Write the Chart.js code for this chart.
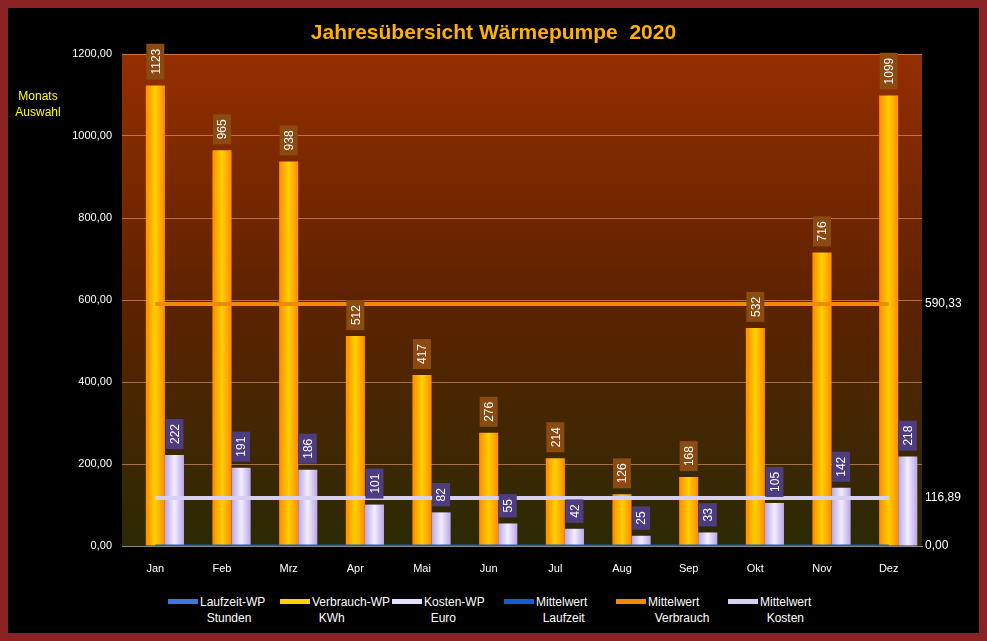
<!DOCTYPE html>
<html lang="de">
<head>
<meta charset="UTF-8">
<title>Jahresübersicht Wärmepumpe 2020</title>
<script src="https://cdn.jsdelivr.net/npm/chart.js"></script>
<style>
  html, body { margin: 0; padding: 0; }
  body { width: 987px; height: 641px; background: #8a2323; position: relative; overflow: hidden; font-family: Arial, sans-serif; }
  #inner { position: absolute; left: 8px; top: 8px; width: 971px; height: 625px; background: #000; }
  #title { position: absolute; left: 0; width: 971px; top: 12px; text-align: center; color: #ffb000; font-weight: bold; font-size: 21px; }
  #auswahl { position: absolute; left: 0; top: 80px; width: 60px; text-align: center; color: #ffff00; font-size: 12px; line-height: 16px; }
  #wrap { position: absolute; left: 0; top: 0; width: 971px; height: 580px; }
  #legend { position: absolute; top: 586px; left: 160px; display: flex; color: #fff; font-size: 12px; }
  .li { width: 112px; display: flex; }
  .sw { width: 30px; height: 5px; margin-top: 5px; margin-right: 2px; }
  .tx { line-height: 16px; }
</style>
</head>
<body>
<div id="inner">
  <div id="wrap"><canvas id="c"></canvas></div>
  <div id="title">Jahresübersicht Wärmepumpe&nbsp; 2020</div>
  <div id="auswahl">Monats<br>Auswahl</div>
  <div id="legend"></div>
</div>
<script>
const months = ['Jan','Feb','Mrz','Apr','Mai','Jun','Jul','Aug','Sep','Okt','Nov','Dez'];
const laufzeit = [0,0,0,0,0,0,0,0,0,0,0,0];
const verbrauch = [1123,965,938,512,417,276,214,126,168,532,716,1099];
const kosten = [222,191,186,101,82,55,42,25,33,105,142,218];
const mittelLaufzeit = 0.00;
const mittelVerbrauch = 590.33;
const mittelKosten = 116.89;
const yTicks = [0,200,400,600,800,1000,1200];

const legendItems = [
  ['Laufzeit-WP','Stunden','#3a7ae0'],
  ['Verbrauch-WP','KWh','#ffd000'],
  ['Kosten-WP','Euro','#e8e0ff'],
  ['Mittelwert','Laufzeit','#1060d0'],
  ['Mittelwert','Verbrauch','#f08a00'],
  ['Mittelwert','Kosten','#d8d0f0']
];
document.getElementById('legend').innerHTML = legendItems.map(l =>
  `<div class="li"><div class="sw" style="background:${l[2]}"></div><div class="tx">${l[0]}<br>&nbsp;&nbsp;${l[1]}</div></div>`).join('');

const de = v => v.toFixed(2).replace('.', ',');
const CAT_PCT = 0.86;

function barGrad(ctx, c1, c2) {
  const xs = ctx.chart.scales && ctx.chart.scales.x;
  if (!xs || ctx.dataIndex === undefined) return c1;
  const cat = (xs.right - xs.left) / months.length;
  const bw = cat * CAT_PCT / 3;
  const cx = xs.getPixelForValue(ctx.dataIndex) + (ctx.datasetIndex - 1) * bw;
  if (!Number.isFinite(cx) || !Number.isFinite(bw)) return c1;
  const g = ctx.chart.ctx.createLinearGradient(cx - bw / 2, 0, cx + bw / 2, 0);
  g.addColorStop(0, c2); g.addColorStop(0.5, c1); g.addColorStop(1, c2);
  return g;
}

const bgPlugin = {
  id: 'bg',
  beforeDraw(chart) {
    const { ctx, chartArea: a } = chart;
    const g = ctx.createLinearGradient(0, a.top, 0, a.bottom);
    g.addColorStop(0, '#952e00');
    g.addColorStop(0.5, '#5e2200');
    g.addColorStop(1, '#2a2a04');
    ctx.save();
    ctx.fillStyle = g;
    ctx.fillRect(a.left, a.top, a.right - a.left, a.bottom - a.top);
    ctx.restore();
  }
};

const labelPlugin = {
  id: 'labels',
  afterDatasetsDraw(chart) {
    const ctx = chart.ctx;
    ctx.font = '12px Arial';
    [[1, '#8a4a10'], [2, '#4d3c80']].forEach(([di, col]) => {
      const meta = chart.getDatasetMeta(di);
      meta.data.forEach((el, i) => {
        const txt = String(chart.data.datasets[di].data[i]);
        const h = ctx.measureText(txt).width + 10, w = 18;
        const x = el.x, y = el.y - 6 - h / 2;
        ctx.save();
        ctx.fillStyle = col;
        ctx.fillRect(x - w / 2, y - h / 2, w, h);
        ctx.translate(x, y);
        ctx.rotate(-Math.PI / 2);
        ctx.fillStyle = '#fff';
        ctx.textAlign = 'center';
        ctx.textBaseline = 'middle';
        ctx.fillText(txt, 0, 1);
        ctx.restore();
      });
    });
    const ys = chart.scales.y, a = chart.chartArea;
    ctx.save();
    ctx.fillStyle = '#fff';
    ctx.textAlign = 'left';
    ctx.textBaseline = 'middle';
    [mittelVerbrauch, mittelKosten, mittelLaufzeit].forEach(v => ctx.fillText(de(v), a.right + 3, ys.getPixelForValue(v)));
    ctx.restore();
  }
};

const flat = v => months.map(() => v);

new Chart(document.getElementById('c'), {
  data: {
    labels: months,
    datasets: [
      { type: 'bar', label: 'Laufzeit-WP', data: laufzeit, backgroundColor: '#3a7ae0', categoryPercentage: CAT_PCT, barPercentage: 1, order: 2 },
      { type: 'bar', label: 'Verbrauch-WP', data: verbrauch, backgroundColor: c => barGrad(c, '#ffd000', '#ff8a00'), categoryPercentage: CAT_PCT, barPercentage: 1, order: 2 },
      { type: 'bar', label: 'Kosten-WP', data: kosten, backgroundColor: c => barGrad(c, '#f4eeff', '#b8a6e8'), categoryPercentage: CAT_PCT, barPercentage: 1, order: 2 },
      { type: 'line', label: 'Mittelwert Laufzeit', data: flat(mittelLaufzeit), borderColor: '#1060d0', borderWidth: 3, pointRadius: 0, order: 1 },
      { type: 'line', label: 'Mittelwert Verbrauch', data: flat(mittelVerbrauch), borderColor: '#f08a00', borderWidth: 4, pointRadius: 0, order: 1 },
      { type: 'line', label: 'Mittelwert Kosten', data: flat(mittelKosten), borderColor: '#d8d0f0', borderWidth: 4, pointRadius: 0, order: 1 }
    ]
  },
  options: {
    responsive: true,
    maintainAspectRatio: false,
    animation: false,
    layout: { padding: { top: 46, right: 57, left: 0, bottom: 0 } },
    plugins: { legend: { display: false }, tooltip: { enabled: false } },
    scales: {
      x: {
        grid: { display: false },
        border: { color: '#888' },
        ticks: { color: '#fff', font: { size: 11, family: 'Arial' }, padding: 8 },
        afterFit: s => { s.height = 42; }
      },
      y: {
        min: 0, max: 1200,
        afterBuildTicks: s => { s.ticks = yTicks.map(v => ({ value: v })); },
        grid: { color: 'rgba(255,170,110,0.55)', drawTicks: false },
        border: { display: false },
        ticks: { color: '#fff', font: { size: 11, family: 'Arial' }, padding: 10, callback: v => de(v) },
        afterFit: s => { s.width = 114; }
      }
    }
  },
  plugins: [bgPlugin, labelPlugin]
});
</script>
</body>
</html>
